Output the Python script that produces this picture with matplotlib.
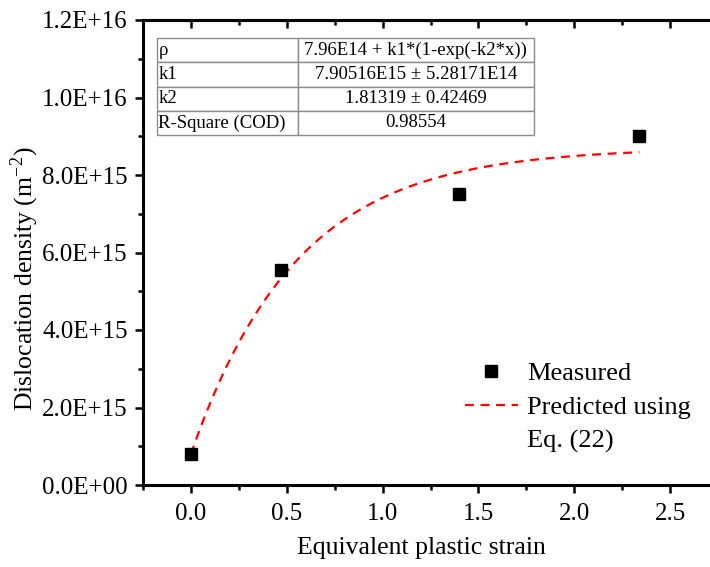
import numpy as np
import matplotlib
matplotlib.use("Agg")
import matplotlib.pyplot as plt
from matplotlib.ticker import MultipleLocator, FuncFormatter
from matplotlib.lines import Line2D

plt.rcParams['font.family'] = ['Liberation Serif', 'DejaVu Serif']
plt.rcParams['mathtext.fontset'] = 'stix'

# Measured data
strain = [0.0, 0.47, 1.40, 2.34]
density = [8.0e14, 5.55e15, 7.50e15, 9.00e15]

# Fit parameters (from the chart's table)
rho0 = 7.96e14
k1 = 7.90516e15
k2 = 1.81319
fit_xmax = 2.34

table_rows = [
    ["ρ", "7.96E14 + k1*(1-exp(-k2*x))"],
    ["k1", "7.90516E15 ± 5.28171E14"],
    ["k2", "1.81319 ± 0.42469"],
    ["R-Square (COD)", "0.98554"],
]

W, H = 710, 567
fig = plt.figure(figsize=(W / 100, H / 100), dpi=100)
ax = fig.add_axes([143 / W, 1 - 485 / H, (718 - 143) / W, (485 - 20) / H])

xf = np.linspace(0, fit_xmax, 300)
yf = rho0 + k1 * (1 - np.exp(-k2 * xf))
ax.plot(xf, yf, color='#ff0000', lw=1.6, dashes=(4, 3), zorder=2)
ax.plot(strain, density, 's', color='black', ms=8, zorder=3)

ax.set_xlim(-0.25, 2.75)
ax.set_ylim(0, 1.2e16)
ax.xaxis.set_major_locator(MultipleLocator(0.5))
ax.xaxis.set_minor_locator(MultipleLocator(0.25))
ax.yaxis.set_major_locator(MultipleLocator(2e15))
ax.yaxis.set_minor_locator(MultipleLocator(1e15))
ax.xaxis.set_major_formatter(FuncFormatter(lambda v, p: f"{v:.1f}"))
ax.yaxis.set_major_formatter(FuncFormatter(lambda v, p: f"{v:.1E}"))

for s in ax.spines.values():
    s.set_linewidth(2.2)
ax.tick_params(axis='both', which='both', direction='out', width=1.8,
               labelsize=18, top=False, right=False)
ax.tick_params(axis='both', which='major', length=6, pad=5)
ax.tick_params(axis='x', which='major', pad=7)
ax.tick_params(axis='both', which='minor', length=3.5)

# inward ticks on top and right
secx = ax.secondary_xaxis('top')
secx.xaxis.set_major_locator(MultipleLocator(0.5))
secx.xaxis.set_minor_locator(MultipleLocator(0.25))
secx.tick_params(which='both', direction='in', width=1.8, labeltop=False)
secx.tick_params(which='major', length=6)
secx.tick_params(which='minor', length=3.5)
secx.spines['top'].set_linewidth(2.2)
secy = ax.secondary_yaxis('right')
secy.yaxis.set_major_locator(MultipleLocator(2e15))
secy.yaxis.set_minor_locator(MultipleLocator(1e15))
secy.tick_params(which='both', direction='in', width=1.8, labelright=False)
secy.tick_params(which='major', length=6)
secy.tick_params(which='minor', length=3.5)

ax.set_xlabel("Equivalent plastic strain", fontsize=18.5)
ax.set_ylabel("Dislocation density (m$^{\\mathregular{-2}}$)", fontsize=18.5)
ax.xaxis.set_label_coords((421 - 143) / 575, -(548 - 485) / 465, transform=ax.transAxes)
ax.xaxis.label.set_va('center')
ax.yaxis.set_label_coords(-(145 - 27) / 575, (485 - 279) / 465, transform=ax.transAxes)
ax.yaxis.label.set_va('center')

# Fit table
tbl = ax.table(cellText=table_rows, cellLoc='center',
               colWidths=[0.373, 0.627],
               bbox=[(157 - 143) / 575, (485 - 135) / 465, (534 - 157) / 575, (135 - 38) / 465])
tbl.auto_set_font_size(False)
for (r, c), cell in tbl.get_celld().items():
    cell.set_edgecolor('#8c8c8c')
    cell.set_linewidth(1.0)
    cell.set_facecolor('white')
    cell.get_text().set_fontsize(13.5)
    if c == 0:
        cell._loc = 'left'
        cell.get_text().set_ha('left')
        cell.PAD = 0.01

# Legend
handles = [
    Line2D([], [], marker='s', ls='none', color='black', ms=8),
    Line2D([], [], color='#ff0000', lw=1.6, dashes=(4, 3)),
    Line2D([], [], ls='none'),
]
leg = ax.legend(handles, ["Measured", "Predicted using", "Eq. (22)"],
                loc='upper left', bbox_to_anchor=((465 - 143) / 575, (485 - 362) / 465),
                frameon=False, fontsize=19, handlelength=2.0, handletextpad=0.35,
                labelspacing=0.38, borderpad=0, borderaxespad=0)

fig.savefig("out.png", dpi=100)
